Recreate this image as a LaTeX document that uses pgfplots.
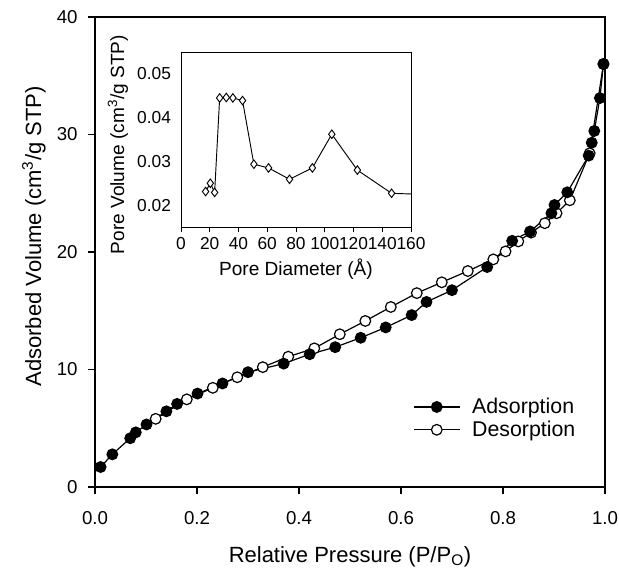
\documentclass[border=0pt]{standalone}
\usepackage{fontspec}
\setmainfont{Liberation Sans}
\usepackage{pgfplots}
\pgfplotsset{compat=1.18}
\begin{document}
\begin{tikzpicture}
\useasboundingbox (-71.25pt,-62.25pt) rectangle (393pt,365.25pt);
\begin{axis}[
 at={(0pt,0pt)}, anchor=south west,
 width=382.5pt, height=352.5pt, scale only axis,
 xmin=0, xmax=1, ymin=0, ymax=40,
 xtick={0,0.2,0.4,0.6,0.8,1.0}, ytick={0,10,20,30,40},
 xtick pos=left, ytick pos=left, tick align=outside,
 major tick length=5pt,
 axis line style={line width=0.9pt},
 tick style={line width=0.9pt, black},
 /pgf/number format/assume math mode=true,
 xticklabel style={/pgf/number format/fixed,/pgf/number format/precision=1,/pgf/number format/fixed zerofill, yshift=-10pt},
 yticklabel style={xshift=-4.5pt},
 ticklabel style={font=\fontsize{14}{16}\selectfont},
 xlabel={Relative Pressure (P/P\textsubscript{O})},
 ylabel={Adsorbed Volume (cm\textsuperscript{3}/g STP)},
 label style={font=\fontsize{16.5}{19}\selectfont},
 xlabel style={yshift=-9pt},
 ylabel style={at={(ticklabel cs:0.533)}, yshift=1.5pt},
 legend style={draw=none, fill=none, at={(0.616,0.146)}, anchor=west,
   font=\fontsize{16}{19}\selectfont, row sep=0pt,
   /tikz/every odd column/.append style={column sep=7pt}},
 legend cell align=left,
 reverse legend,
 legend image code/.code={\draw[mark repeat=2,mark phase=2,#1] plot coordinates {(0cm,0cm)(0.6cm,0cm)(1.2cm,0cm)};},
]
\addplot[black, line width=0.9pt, mark=*, mark size=4pt, mark options={fill=white, line width=0.9pt}] coordinates {
(0.997,36.0) (0.970,28.4) (0.931,24.4) (0.905,23.3) (0.882,22.45) (0.855,21.65)
(0.830,20.9) (0.805,20.05) (0.781,19.37) (0.731,18.38) (0.680,17.42) (0.631,16.5)
(0.580,15.32) (0.530,14.13) (0.480,13.0) (0.430,11.8) (0.379,11.09) (0.329,10.2)
(0.279,9.34) (0.231,8.44) (0.180,7.46) (0.119,5.8)
};
\addlegendentry{Desorption}
\addplot[black, line width=0.9pt, mark=*, mark size=4pt, mark options={fill=black}] coordinates {
(0.011,1.70) (0.034,2.78) (0.069,4.15) (0.080,4.65) (0.101,5.32) (0.140,6.44)
(0.161,7.07) (0.201,7.95) (0.250,8.81) (0.300,9.77) (0.370,10.5) (0.421,11.3)
(0.471,11.9) (0.521,12.7) (0.570,13.58) (0.621,14.63) (0.650,15.75) (0.700,16.75)
(0.769,18.72) (0.818,20.95) (0.853,21.75) (0.895,23.3) (0.901,24.0) (0.926,25.08)
(0.968,28.2) (0.974,29.3) (0.979,30.3) (0.990,33.1) (0.997,36.0)
};
\addlegendentry{Adsorption}
\end{axis}
\begin{axis}[
 at={(64.5pt,195pt)}, anchor=south west,
 width=172.5pt, height=131.25pt, scale only axis,
 xmin=0, xmax=160, ymin=0.015, ymax=0.055,
 xtick={0,20,40,60,80,100,120,140,160},
 ytick={0.02,0.03,0.04,0.05},
 scaled y ticks=false,
 yticklabel style={/pgf/number format/fixed,/pgf/number format/precision=2,/pgf/number format/fixed zerofill},
 xtick pos=left, ytick pos=left, tick align=outside,
 major tick length=4pt,
 y tick style={draw=none},
 axis line style={line width=0.7pt},
 tick style={line width=0.7pt, black},
 /pgf/number format/assume math mode=true,
 ticklabel style={font=\fontsize{13}{15}\selectfont},
 xlabel={Pore Diameter (Å)},
 ylabel={Pore Volume (cm\textsuperscript{3}/g STP)},
 label style={font=\fontsize{14.3}{16}\selectfont},
 ylabel style={at={(ticklabel cs:0.47)}},
]
\addplot[black, line width=0.7pt, mark=diamond*, mark size=3.2pt, mark options={fill=white, line width=0.7pt}] coordinates {
(17.1,0.0231) (20.4,0.0250) (23.4,0.0229) (26.9,0.0445) (31.5,0.0446) (36.1,0.0445)
(42.8,0.0439) (50.7,0.02935) (60.9,0.0285) (75.5,0.0259) (91.4,0.0285) (104.9,0.0362)
(122.7,0.0280) (146.5,0.0227) (190,0.0222)
};
\end{axis}
\end{tikzpicture}
\end{document}
